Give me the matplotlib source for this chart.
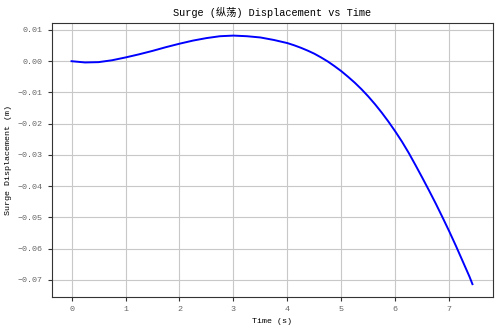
import matplotlib
matplotlib.use("Agg")
import matplotlib.pyplot as plt

plt.rcParams["font.family"] = ["Liberation Mono", "Noto Sans CJK SC", "DejaVu Sans"]

time_s = [0, 0.25, 0.5, 0.75, 1.0, 1.25, 1.5, 1.75, 2.0, 2.25, 2.5, 2.75,
          3.0, 3.25, 3.5, 3.75, 4.0, 4.125, 4.25, 4.375, 4.5, 4.625, 4.75,
          4.875, 5.0, 5.125, 5.25, 5.375, 5.5, 5.625, 5.75, 5.875, 6.0,
          6.125, 6.25, 6.375, 6.5, 6.625, 6.75, 6.875, 7.0, 7.125, 7.25,
          7.375, 7.43]
surge_m = [0.0, -0.0004, -0.0003, 0.0003, 0.0012, 0.0022, 0.0033, 0.0045,
           0.0056, 0.0066, 0.0074, 0.0080, 0.0082, 0.0080, 0.0076, 0.0068,
           0.0058, 0.0051, 0.0043, 0.0034, 0.0024, 0.0012, -0.0001, -0.0016,
           -0.0032, -0.0050, -0.0069, -0.0090, -0.0113, -0.0138, -0.0165,
           -0.0194, -0.0225, -0.0258, -0.0294, -0.0333, -0.0373, -0.0414,
           -0.0456, -0.0500, -0.0545, -0.0592, -0.0641, -0.0690, -0.0714]

fig = plt.figure(figsize=(5.0, 3.31), dpi=100)
ax = fig.add_axes([0.103, 0.104, 0.882, 0.826])
ax.plot(time_s, surge_m, color="blue", linewidth=1.4)
ax.set_title("Surge (纵荡) Displacement vs Time", fontsize=7.4, pad=5)
ax.set_xlabel("Time (s)", fontsize=6)
ax.set_ylabel("Surge Displacement (m)", fontsize=6)
ax.tick_params(labelsize=6, labelcolor="#666666", color="#333333", length=3)
ax.grid(True, color="#c8c8c8", linewidth=0.8)
ax.set_axisbelow(True)
for s in ax.spines.values():
    s.set_color("#333333")

fig.savefig("out.png", dpi=100)
